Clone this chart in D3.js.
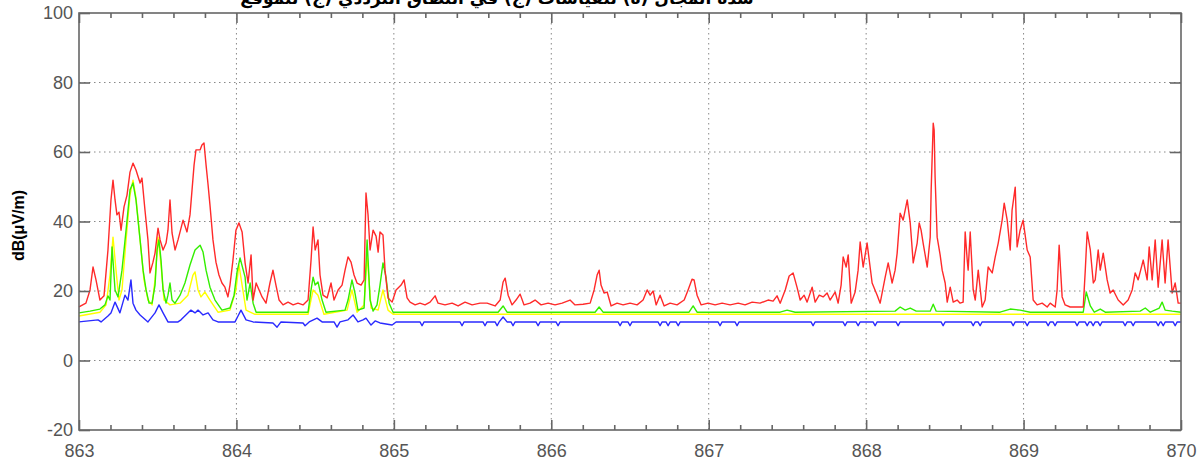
<!DOCTYPE html>
<html>
<head>
<meta charset="utf-8">
<script src="https://cdn.jsdelivr.net/npm/d3@7"></script>
<style>
  body { margin: 0; background: #fff; }
  svg { display: block; }
  .tick text { font-family: "Liberation Sans", Arial, sans-serif; font-size: 18px; fill: #555; }
  .axis path, .axis line { stroke: #666; }
</style>
</head>
<body>
<svg id="chart"></svg>
<script>
// frequency (MHz), level dB(uV/m)
const redData = [
  [863.000,15.4],[863.044,16.5],[863.070,20.3],[863.089,26.9],[863.108,23.2],[863.133,17.4],[863.159,18.6],
  [863.184,31.8],[863.203,46.2],[863.216,51.9],[863.229,46.2],[863.241,41.9],[863.254,42.7],[863.267,37.5],
  [863.286,44.2],[863.305,47.6],[863.324,54.2],[863.343,56.8],[863.362,54.8],[863.388,51.1],[863.400,52.5],
  [863.419,43.3],[863.438,34.7],[863.451,25.2],[863.470,28.3],[863.483,30.9],[863.502,38.1],[863.515,34.7],
  [863.534,31.8],[863.553,33.8],[863.565,37.5],[863.578,46.2],[863.591,36.7],[863.610,31.8],[863.629,34.7],
  [863.648,38.1],[863.661,40.4],[863.686,37.0],[863.705,41.9],[863.718,49.1],[863.731,56.3],[863.743,60.6],
  [863.769,60.6],[863.781,62.0],[863.794,62.6],[863.807,56.3],[863.820,50.5],[863.832,44.7],[863.851,34.7],
  [863.870,28.3],[863.889,24.6],[863.908,22.3],[863.927,21.1],[863.946,18.3],[863.959,21.7],[863.978,28.9],
  [863.997,37.5],[864.016,39.6],[864.036,37.0],[864.055,28.1],[864.074,22.3],[864.093,30.4],[864.106,17.4],
  [864.125,22.3],[864.144,20.3],[864.163,18.3],[864.188,16.5],[864.213,22.3],[864.232,26.0],[864.251,21.7],
  [864.271,17.4],[864.296,16.0],[864.328,16.8],[864.360,16.0],[864.391,16.5],[864.423,16.0],[864.455,17.4],
  [864.474,28.9],[864.487,38.4],[864.500,31.8],[864.518,34.7],[864.531,24.6],[864.550,18.8],[864.576,18.0],
  [864.601,22.3],[864.620,17.4],[864.646,20.3],[864.671,21.7],[864.690,26.0],[864.709,29.8],[864.728,28.3],
  [864.747,24.6],[864.766,22.3],[864.792,21.7],[864.811,23.2],[864.823,48.2],[864.836,41.9],[864.849,31.8],
  [864.868,37.5],[864.887,35.8],[864.900,31.2],[864.912,37.0],[864.931,36.1],[864.944,26.0],[864.963,18.0],
  [864.989,16.8],[865.014,20.3],[865.046,21.7],[865.065,23.2],[865.084,18.0],[865.103,16.8],[865.135,16.0],
  [865.166,16.5],[865.198,16.0],[865.230,16.8],[865.262,18.6],[865.281,16.5],[865.325,16.0],[865.370,16.5],
  [865.408,15.7],[865.452,16.8],[865.497,16.0],[865.548,16.5],[865.592,16.5],[865.643,15.7],[865.675,17.4],
  [865.694,22.6],[865.707,23.7],[865.726,18.8],[865.751,16.0],[865.776,17.4],[865.802,19.1],[865.827,16.0],
  [865.865,16.5],[865.897,17.4],[865.935,16.0],[865.980,16.5],[866.024,16.0],[866.069,16.5],[866.119,17.4],
  [866.151,16.0],[866.202,16.2],[866.247,16.5],[866.272,20.3],[866.291,24.6],[866.304,26.0],[866.316,21.7],
  [866.335,19.4],[866.355,19.7],[866.380,15.7],[866.418,16.5],[866.456,16.0],[866.501,16.5],[866.545,16.0],
  [866.583,17.4],[866.609,20.3],[866.628,18.8],[866.647,20.0],[866.666,16.0],[866.691,18.8],[866.717,15.7],
  [866.755,16.5],[866.799,16.0],[866.844,17.4],[866.869,20.3],[866.894,23.4],[866.907,23.2],[866.926,18.8],
  [866.952,16.0],[866.996,16.5],[867.041,16.0],[867.085,16.5],[867.136,16.0],[867.187,16.5],[867.231,16.0],
  [867.276,16.8],[867.326,16.5],[867.377,17.4],[867.409,17.1],[867.434,18.6],[867.454,16.5],[867.486,20.3],
  [867.511,24.3],[867.536,25.2],[867.562,20.9],[867.581,17.4],[867.606,18.8],[867.625,16.8],[867.657,21.1],
  [867.676,16.8],[867.702,18.8],[867.727,18.3],[867.752,19.4],[867.771,17.4],[867.803,19.7],[867.822,16.5],
  [867.841,21.7],[867.854,29.8],[867.873,26.9],[867.886,30.4],[867.905,16.5],[867.930,19.7],[867.949,26.0],
  [867.962,34.1],[867.981,26.9],[868.006,33.8],[868.038,22.3],[868.070,18.8],[868.089,16.5],[868.121,24.0],
  [868.140,28.1],[868.165,22.3],[868.184,26.0],[868.197,30.9],[868.216,42.4],[868.235,40.4],[868.261,46.2],
  [868.280,39.6],[868.299,28.1],[868.324,33.8],[868.337,39.6],[868.349,37.5],[868.362,33.8],[868.388,26.9],
  [868.407,35.5],[868.413,49.1],[868.426,68.3],[868.432,66.3],[868.438,52.8],[868.451,35.5],[868.470,30.4],
  [868.483,26.0],[868.502,22.3],[868.515,16.8],[868.534,21.1],[868.553,16.8],[868.578,17.4],[868.597,16.5],
  [868.616,16.8],[868.629,37.0],[868.642,28.9],[868.648,26.0],[868.661,37.0],[868.680,20.3],[868.693,17.4],
  [868.712,26.0],[868.737,15.4],[868.756,17.4],[868.775,26.9],[868.801,25.2],[868.820,29.8],[868.839,33.8],
  [868.864,40.4],[868.877,45.3],[868.896,40.4],[868.915,31.8],[868.927,43.3],[868.947,49.9],[868.959,32.7],
  [868.978,37.5],[868.997,40.4],[869.023,31.8],[869.042,29.8],[869.061,17.4],[869.086,16.0],[869.118,16.5],
  [869.150,15.4],[869.169,16.5],[869.201,15.4],[869.213,20.3],[869.226,33.2],[869.245,18.3],[869.264,16.0],
  [869.296,15.4],[869.341,15.4],[869.379,15.4],[869.392,26.0],[869.404,37.0],[869.424,31.8],[869.443,22.3],
  [869.455,23.2],[869.474,31.8],[869.487,26.0],[869.506,30.9],[869.531,23.2],[869.550,19.4],[869.569,20.3],
  [869.601,17.4],[869.633,16.0],[869.664,17.4],[869.690,20.3],[869.709,25.2],[869.728,23.2],[869.760,28.9],
  [869.785,23.2],[869.798,32.7],[869.817,23.2],[869.836,34.7],[869.855,21.1],[869.880,34.7],[869.899,22.3],
  [869.918,34.7],[869.944,19.4],[869.963,22.3],[869.982,16.5],[870.000,16.5]
];

const greenData = [
  [863.000,13.7],[863.070,14.2],[863.133,14.8],[863.165,16.0],[863.184,18.6],[863.197,17.4],[863.210,32.7],
  [863.229,20.3],[863.248,18.3],[863.273,26.0],[863.299,37.5],[863.324,49.1],[863.343,51.1],[863.362,46.2],
  [863.388,34.7],[863.407,26.0],[863.426,20.3],[863.445,16.5],[863.464,16.5],[863.483,21.7],[863.496,31.8],
  [863.508,34.7],[863.521,28.9],[863.534,20.3],[863.553,16.5],[863.565,18.8],[863.578,22.3],[863.591,17.4],
  [863.610,16.5],[863.642,18.8],[863.673,22.3],[863.705,27.5],[863.737,31.8],[863.769,33.2],[863.788,31.2],
  [863.807,26.0],[863.832,21.1],[863.864,17.4],[863.908,14.5],[863.959,15.1],[863.985,18.8],[864.004,25.5],
  [864.023,29.5],[864.055,24.0],[864.067,17.4],[864.087,22.3],[864.106,16.5],[864.125,13.9],[864.455,13.9],
  [864.474,20.3],[864.487,24.0],[864.500,21.7],[864.518,22.6],[864.544,17.4],[864.569,13.9],[864.690,14.5],
  [864.709,17.4],[864.734,23.2],[864.753,19.4],[864.772,14.5],[864.811,15.1],[864.830,34.7],[864.849,17.4],
  [864.868,14.2],[864.893,16.0],[864.912,21.7],[864.931,28.1],[864.950,24.0],[864.970,16.5],[864.995,13.9],
  [865.662,13.9],[865.694,15.7],[865.719,13.9],[866.278,13.9],[866.304,15.4],[866.329,13.9],[866.875,13.9],
  [866.901,15.7],[866.926,13.9],[867.454,13.9],[867.498,14.5],[867.549,13.9],[868.184,14.2],[868.216,15.4],
  [868.248,14.5],[868.280,15.1],[868.318,14.2],[868.407,14.2],[868.426,16.2],[868.445,14.2],[868.851,13.9],
  [868.915,14.8],[868.978,14.5],[869.042,13.9],[869.379,13.9],[869.398,19.7],[869.424,15.7],[869.449,13.9],
  [869.487,14.8],[869.519,13.9],[869.741,14.2],[869.773,15.1],[869.805,13.9],[869.862,15.1],[869.880,16.8],
  [869.899,14.5],[869.944,14.2],[870.000,13.9]
];

const yellowData = [
  [863.000,12.8],[863.133,13.9],[863.172,16.0],[863.197,24.6],[863.216,35.5],[863.235,26.0],[863.254,17.4],
  [863.273,20.3],[863.299,34.7],[863.324,47.6],[863.343,51.9],[863.362,46.8],[863.388,34.7],[863.413,23.2],
  [863.438,17.4],[863.464,16.0],[863.483,23.2],[863.502,35.5],[863.521,27.5],[863.540,17.4],[863.578,16.0],
  [863.642,16.5],[863.692,18.8],[863.724,24.6],[863.737,25.5],[863.756,20.3],[863.775,18.3],[863.800,19.7],
  [863.832,17.4],[863.883,13.9],[863.959,14.5],[863.997,20.3],[864.016,27.5],[864.036,21.7],[864.061,14.5],
  [864.118,13.3],[864.455,13.3],[864.487,20.3],[864.518,18.8],[864.556,13.3],[864.703,14.5],[864.734,20.3],
  [864.766,13.9],[864.811,16.0],[864.830,30.4],[864.855,15.1],[864.900,14.5],[864.931,20.3],[864.963,14.5],
  [864.995,13.3],[870.000,13.3]
];

const blueData = [
  [863.000,11.1],[863.121,11.7],[863.140,11.1],[863.184,12.8],[863.203,13.7],[863.229,16.8],[863.260,13.7],
  [863.292,18.8],[863.311,17.4],[863.330,23.2],[863.343,16.5],[863.362,14.5],[863.388,13.1],[863.438,11.1],
  [863.483,13.7],[863.508,16.0],[863.534,13.7],[863.565,11.1],[863.629,11.1],[863.648,11.7],[863.711,14.5],
  [863.737,13.7],[863.756,14.5],[863.788,13.1],[863.820,13.7],[863.851,11.7],[863.883,11.1],[863.991,11.1],
  [864.010,12.8],[864.029,14.5],[864.061,11.7],[864.106,11.1],[864.232,10.8],[864.258,9.6],[864.283,11.1],
  [864.423,10.8],[864.436,10.0],[864.462,11.1],[864.512,12.2],[864.544,11.1],[864.620,11.1],[864.639,9.6],
  [864.658,11.1],[864.709,11.7],[864.741,13.1],[864.772,11.1],[864.804,11.7],[864.823,12.2],[864.855,10.2],
  [864.881,11.4],[864.912,10.8],[864.989,10.2],[865.014,11.1],
  [865.166,11.1],[865.179,10.0],[865.192,11.1],[865.420,11.1],[865.433,10.0],[865.446,11.1],
  [865.566,11.1],[865.579,10.0],[865.592,11.1],[865.643,11.1],[865.656,10.0],[865.669,11.1],
  [865.694,12.5],[865.719,11.1],[865.744,11.1],[865.757,10.0],[865.770,11.1],[865.903,11.1],[865.916,10.0],
  [865.929,11.1],[866.030,11.1],[866.043,10.0],[866.056,11.1],[866.424,11.1],[866.437,10.0],[866.450,11.1],
  [866.487,11.1],[866.500,10.0],[866.513,11.1],[866.678,11.1],[866.691,10.0],[866.704,11.1],[866.729,11.1],
  [866.742,10.0],[866.755,11.1],[866.793,11.1],[866.806,10.0],[866.819,11.1],[867.059,11.1],[867.072,10.0],
  [867.085,11.1],[867.167,11.1],[867.180,10.0],[867.193,11.1],[867.650,11.1],[867.663,10.0],[867.676,11.1],
  [867.853,11.1],[867.866,10.0],[867.879,11.1],[867.936,11.1],[867.949,10.0],[867.962,11.1],[868.044,11.1],
  [868.057,10.0],[868.070,11.1],[868.190,11.1],[868.203,10.0],[868.216,11.1],[868.476,11.1],[868.489,10.0],
  [868.502,11.1],[868.667,11.1],[868.680,10.0],[868.693,11.1],[868.711,11.1],[868.724,10.0],[868.737,11.1],
  [868.921,11.1],[868.934,10.0],[868.947,11.1],[869.010,11.1],[869.023,10.0],[869.036,11.1],[869.143,11.1],
  [869.156,10.0],[869.169,11.1],[869.187,11.1],[869.200,10.0],[869.213,11.1],[869.327,11.1],[869.340,10.0],
  [869.353,11.1],[869.391,11.1],[869.404,10.0],[869.417,11.1],[869.429,11.1],[869.442,10.0],[869.455,11.1],
  [869.473,11.1],[869.486,10.0],[869.499,11.1],[869.632,11.1],[869.645,10.0],[869.658,11.1],[869.683,11.1],
  [869.696,10.0],[869.709,11.1],[869.842,11.1],[869.855,10.0],[869.868,11.1],[869.874,11.1],[869.887,10.0],
  [869.900,11.1],[869.950,11.1],[869.963,10.0],[869.976,11.1],[870.000,11.1]
];

const xTicks = [863, 864, 865, 866, 867, 868, 869, 870];
const yTicks = [-20, 0, 20, 40, 60, 80, 100];
const yLabel = 'dB(μV/m)';
const title = 'شدة المجال (ة) للقياسات (ج) في النطاق الترددي (ج) للموقع';

const width = 1204, height = 460;
const margin = { top: 13, right: 23, bottom: 30, left: 79 };
const w = width - margin.left - margin.right;
const h = height - margin.top - margin.bottom;

const svg = d3.select('#chart')
    .attr('width', width)
    .attr('height', height);

const chart = svg.append('g')
    .attr('transform', `translate(${margin.left}, ${margin.top})`);

const x = d3.scaleLinear().domain([863, 870]).range([0, w]);
const y = d3.scaleLinear().domain([-20, 100]).range([h, 0]);

const minorX = d3.range(863, 870.001, 0.2).map(d => +d.toFixed(1)).filter(d => !xTicks.includes(d));

// grid
chart.append('g')
    .selectAll('line')
    .data(xTicks.slice(1, -1))
    .enter().append('line')
        .attr('x1', d => x(d)).attr('x2', d => x(d))
        .attr('y1', 0).attr('y2', h)
        .attr('stroke', '#888')
        .attr('stroke-dasharray', '1.5,3.5');

chart.append('g')
    .selectAll('line')
    .data(yTicks.slice(1, -1))
    .enter().append('line')
        .attr('y1', d => y(d)).attr('y2', d => y(d))
        .attr('x1', 0).attr('x2', w)
        .attr('stroke', '#888')
        .attr('stroke-dasharray', '1.5,3.5');

// series
const line = d3.line()
    .x(d => x(d[0]))
    .y(d => y(d[1]));

const series = [
    { data: blueData, color: '#2a2aff' },
    { data: yellowData, color: '#ffff00' },
    { data: greenData, color: '#33ee00' },
    { data: redData, color: '#ff2a2a' }
];

chart.selectAll('path.series')
    .data(series)
    .enter().append('path')
        .attr('class', 'series')
        .attr('fill', 'none')
        .attr('stroke', d => d.color)
        .attr('stroke-width', 1.4)
        .attr('stroke-linejoin', 'round')
        .attr('d', d => line(d.data));

// axes
const fmt = d => `${d}`;

chart.append('g')
    .attr('class', 'axis')
    .attr('transform', `translate(0, ${h})`)
    .call(d3.axisBottom(x).tickValues(xTicks).tickSize(-10).tickPadding(14).tickFormat(fmt))
    .call(g => g.select('.domain').remove());

chart.append('g')
    .attr('class', 'axis')
    .attr('transform', `translate(0, ${h})`)
    .call(d3.axisBottom(x).tickValues(minorX).tickSize(-5).tickFormat(''))
    .call(g => g.select('.domain').remove());

chart.append('g')
    .attr('class', 'axis')
    .call(d3.axisTop(x).tickValues(xTicks).tickSize(-10).tickFormat(''))
    .call(g => g.select('.domain').remove());

chart.append('g')
    .attr('class', 'axis')
    .call(d3.axisTop(x).tickValues(minorX).tickSize(-5).tickFormat(''))
    .call(g => g.select('.domain').remove());

chart.append('g')
    .attr('class', 'axis')
    .call(d3.axisLeft(y).tickValues(yTicks).tickSize(-11).tickPadding(6).tickFormat(fmt))
    .call(g => g.select('.domain').remove());

chart.append('g')
    .attr('class', 'axis')
    .attr('transform', `translate(${w}, 0)`)
    .call(d3.axisRight(y).tickValues(yTicks).tickSize(-11).tickFormat(''))
    .call(g => g.select('.domain').remove());

chart.selectAll('.axis line').attr('stroke-width', 1.6);

chart.append('rect')
    .attr('width', w)
    .attr('height', h)
    .attr('fill', 'none')
    .attr('stroke', '#666')
    .attr('stroke-width', 1.6);

// labels
svg.append('text')
    .attr('transform', `translate(24, ${margin.top + h / 2 + 4}) rotate(-90)`)
    .attr('text-anchor', 'middle')
    .style('font-family', '"Liberation Sans", Arial, sans-serif')
    .style('font-size', '16px')
    .style('font-weight', 'bold')
    .text(yLabel);

svg.append('text')
    .attr('x', 497)
    .attr('y', 4)
    .attr('text-anchor', 'middle')
    .attr('direction', 'rtl')
    .style('font-family', '"DejaVu Sans", sans-serif')
    .style('font-size', '17px')
    .style('font-weight', 'bold')
    .text(title);
</script>
</body>
</html>
